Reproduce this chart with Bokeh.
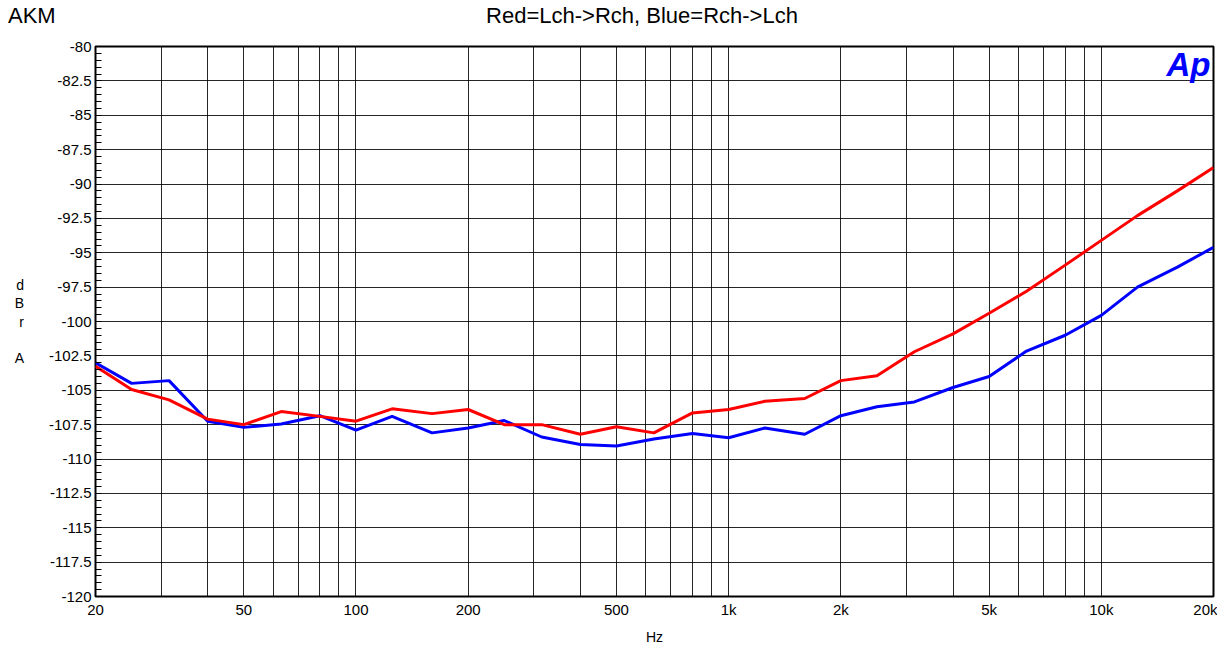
import html
from bokeh.plotting import figure
from bokeh.layouts import column
from bokeh.models import FixedTicker, CustomJSTickFormatter, Label, Div
from bokeh.embed import file_html
from bokeh.resources import INLINE

freqs = [20, 25, 31.5, 40, 50, 63, 80, 100, 125, 160, 200, 250, 315, 400, 500, 630, 800,
         1000, 1250, 1600, 2000, 2500, 3150, 4000, 5000, 6300, 8000, 10000, 12500, 16000, 20000]
red = [-103.25, -104.95, -105.7, -107.1, -107.5, -106.55, -106.9, -107.25, -106.35, -106.7,
       -106.4, -107.5, -107.5, -108.2, -107.65, -108.1, -106.65, -106.4, -105.8, -105.6,
       -104.3, -103.95, -102.2, -100.9, -99.4, -97.8, -95.9, -94.1, -92.3, -90.5, -88.8]
blue = [-103.0, -104.5, -104.3, -107.25, -107.7, -107.45, -106.85, -107.9, -106.9, -108.1,
        -107.75, -107.2, -108.4, -108.95, -109.05, -108.55, -108.15, -108.45, -107.75, -108.2,
        -106.85, -106.2, -105.85, -104.8, -104.0, -102.15, -101.0, -99.55, -97.5, -96.05, -94.6]

x_major = [20, 50, 100, 200, 500, 1000, 2000, 5000, 10000, 20000]
x_minor = [30, 40, 60, 70, 80, 90, 300, 400, 600, 700, 800, 900,
           3000, 4000, 6000, 7000, 8000, 9000]
y_major = [-120 + 2.5 * i for i in range(17)]
y_minor = [-120 + 0.5 * i for i in range(81)]

title_text = "Red=Lch->Rch, Blue=Rch->Lch"
left_title = "AKM"
ylabel = "d\nB\nr\n\nA"
xlabel = "Hz"
FONT = "Liberation Sans"

W, H = 1217, 648
HEAD = 32

head_html = (
    f'<div style="position:relative;width:{W}px;height:{HEAD}px;font-family:\'{FONT}\';'
    f'font-size:22px;line-height:1;color:#000;">'
    f'<span style="position:absolute;left:8px;top:5px;white-space:nowrap;">{html.escape(left_title)}</span>'
    f'<span style="position:absolute;left:642px;top:5px;transform:translateX(-50%);'
    f'white-space:nowrap;">{html.escape(title_text)}</span></div>'
)
head = Div(text=head_html, width=W, height=HEAD, margin=0)

p = figure(width=W, height=H - HEAD, x_axis_type="log", x_range=(20, 20000), y_range=(-120, -80),
           min_border_left=95, min_border_right=4, min_border_top=46 - HEAD, min_border_bottom=52,
           output_backend="svg", toolbar_location=None, margin=0)
p.background_fill_color = "white"
p.border_fill_color = "white"
p.outline_line_color = "black"
p.outline_line_width = 2
p.outline_line_alpha = 1

p.xaxis.ticker = FixedTicker(ticks=x_major, minor_ticks=x_minor)
p.yaxis.ticker = FixedTicker(ticks=y_major, minor_ticks=y_minor)
p.xgrid.ticker = FixedTicker(ticks=x_major + x_minor)
p.ygrid.ticker = FixedTicker(ticks=y_major)
for g in (p.xgrid, p.ygrid):
    g.grid_line_color = "black"
    g.grid_line_width = 1
    g.grid_line_alpha = 0.85

p.xaxis.formatter = CustomJSTickFormatter(code="return tick >= 1000 ? (tick/1000) + 'k' : tick.toString();")
p.yaxis.formatter = CustomJSTickFormatter(code="return tick.toString();")

for ax in (p.xaxis, p.yaxis):
    ax.axis_line_color = None
    ax.major_tick_in = 0
    ax.major_tick_out = 0
    ax.major_label_text_font = FONT
    ax.major_label_text_font_size = "15px"
    ax.major_label_text_color = "black"
    ax.axis_label_text_font = FONT
    ax.axis_label_text_font_style = "normal"
    ax.axis_label_text_font_size = "14px"
    ax.axis_label_text_color = "black"
p.xaxis.minor_tick_in = 0
p.xaxis.minor_tick_out = 0
p.yaxis.minor_tick_in = 6
p.yaxis.minor_tick_out = 0
p.yaxis.minor_tick_line_color = "black"
p.yaxis.major_label_standoff = 4
p.xaxis.major_label_standoff = 4

p.xaxis.axis_label = xlabel
p.xaxis.axis_label_standoff = 8
p.yaxis.axis_label = ylabel
p.yaxis.axis_label_orientation = "horizontal"
p.yaxis.axis_label_text_line_height = 1.15
p.yaxis.axis_label_standoff = 22

p.line(freqs, blue, line_color="#0000FF", line_width=3)
p.line(freqs, red, line_color="#FF0000", line_width=3)

p.add_layout(Label(x=1115, y=532, x_units="screen", y_units="screen", text="Ap",
                   text_font=FONT, text_font_size="33px", text_font_style="bold italic",
                   text_color="#0000FF", text_baseline="alphabetic", text_align="right"))

layout = column(head, p, spacing=0)
open("out.html", "w").write(file_html(layout, INLINE))
